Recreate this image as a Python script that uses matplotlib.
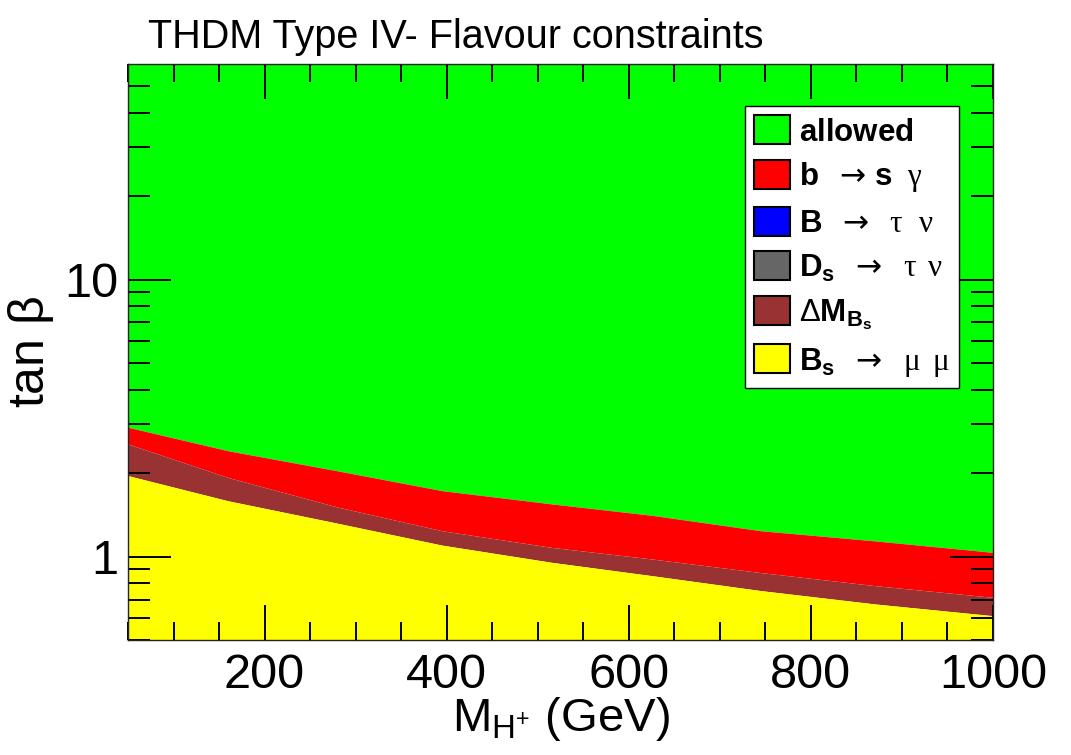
import matplotlib
matplotlib.use("Agg")
import matplotlib.pyplot as plt
import matplotlib.patches as mpatches
from matplotlib.ticker import FixedLocator, NullFormatter

plt.rcParams["font.family"] = ["Liberation Sans", "DejaVu Sans"]
plt.rcParams["mathtext.fontset"] = "custom"
plt.rcParams["mathtext.rm"] = "Liberation Sans"
plt.rcParams["mathtext.bf"] = "Liberation Sans:bold"
plt.rcParams["mathtext.it"] = "Liberation Serif"
plt.rcParams["mathtext.sf"] = "DejaVu Sans"
plt.rcParams["mathtext.default"] = "regular"

# charged Higgs mass (GeV) and the tan(beta) edges of each excluded band
mass = [50, 160, 280, 395, 515, 625, 745, 870, 1000]
bsgamma_upper = [2.93, 2.41, 2.04, 1.73, 1.55, 1.41, 1.24, 1.14, 1.036]
dmbs_upper = [2.55, 1.93, 1.51, 1.24, 1.08, 0.981, 0.876, 0.786, 0.713]
bsmumu_upper = [1.96, 1.59, 1.32, 1.10, 0.954, 0.854, 0.754, 0.675, 0.612]

tb_min, tb_max = 0.5, 60.0
m_min, m_max = 50, 1000

c_allowed = "#00ff00"
c_bsg = "#ff0000"
c_btaunu = "#0000ff"
c_ds = "#666666"
c_dmbs = "#993333"
c_bsmumu = "#ffff00"

fig = plt.figure(figsize=(10.71, 7.55), dpi=100)
ax = fig.add_axes([0.1195, 0.1523, 0.8075, 0.763])

ax.fill_between(mass, bsgamma_upper, tb_max, color=c_allowed, lw=0)
ax.fill_between(mass, dmbs_upper, bsgamma_upper, color=c_bsg, lw=0)
ax.fill_between(mass, bsmumu_upper, dmbs_upper, color=c_dmbs, lw=0)
ax.fill_between(mass, tb_min, bsmumu_upper, color=c_bsmumu, lw=0)

ax.set_yscale("log")
ax.set_xlim(m_min, m_max)
ax.set_ylim(tb_min, tb_max)

ax.xaxis.set_major_locator(FixedLocator([200, 400, 600, 800, 1000]))
ax.xaxis.set_minor_locator(FixedLocator(list(range(50, 1001, 50))))
ax.yaxis.set_major_locator(FixedLocator([1, 10]))
ax.yaxis.set_minor_locator(FixedLocator([0.5, 0.6, 0.7, 0.8, 0.9] + list(range(2, 10)) + [20, 30, 40, 50]))
ax.yaxis.set_major_formatter(plt.FuncFormatter(lambda v, p: f"{v:g}"))
ax.yaxis.set_minor_formatter(NullFormatter())

ax.tick_params(which="both", direction="in", top=True, right=True, color="black", width=1.4)
ax.tick_params(axis="x", which="major", length=25, labelsize=35, pad=9)
ax.tick_params(axis="x", which="minor", length=13)
ax.tick_params(axis="y", which="major", length=31, labelsize=35, pad=7)
ax.tick_params(axis="y", which="minor", length=16)
for sp in ax.spines.values():
    sp.set_linewidth(1.0)
    sp.set_color("#222222")
    sp.set_zorder(5)

ax.set_xlabel(r"M$_{\mathrm{H^{+}}}$ (GeV)", fontsize=34, labelpad=-2)
ax.set_ylabel(r"tan $\beta$", fontsize=36, labelpad=6)
fig.text(0.138, 0.951, "THDM Type IV- Flavour constraints", fontsize=28.5,
         ha="left", va="center")

arrow = r"\mathsf{\rightarrow}"
handles = [
    mpatches.Patch(facecolor=c_allowed, edgecolor="black", lw=1.5,
                   label=r"$\mathbf{allowed}$"),
    mpatches.Patch(facecolor=c_bsg, edgecolor="black", lw=1.5,
                   label=r"$\mathbf{b}\ \ " + arrow + r"\,\mathbf{s}\ \ \mathit{\gamma}$"),
    mpatches.Patch(facecolor=c_btaunu, edgecolor="black", lw=1.5,
                   label=r"$\mathbf{B}\ \ " + arrow + r"\ \ \mathit{\tau}\ \ \mathit{\nu}$"),
    mpatches.Patch(facecolor=c_ds, edgecolor="black", lw=1.5,
                   label=r"$\mathbf{D_s}\ \ " + arrow + r"\ \ \mathit{\tau}\ \,\mathit{\nu}$"),
    mpatches.Patch(facecolor=c_dmbs, edgecolor="black", lw=1.5,
                   label=r"$\Delta\mathbf{M_{B_s}}$"),
    mpatches.Patch(facecolor=c_bsmumu, edgecolor="black", lw=1.5,
                   label=r"$\mathbf{B_s}\ \ " + arrow + r"\ \ \mathit{\mu}\ \,\mathit{\mu}$"),
]
leg = ax.legend(handles=handles, loc="upper left", bbox_to_anchor=(0.713, 0.927),
                borderaxespad=0, fontsize=22.5, handlelength=1.15, handleheight=1.05,
                handletextpad=0.3, labelspacing=0.4, borderpad=0.3,
                fancybox=False, framealpha=1, edgecolor="black")
leg.get_frame().set_linewidth(1.0)

fig.savefig("out.png", dpi=100)
